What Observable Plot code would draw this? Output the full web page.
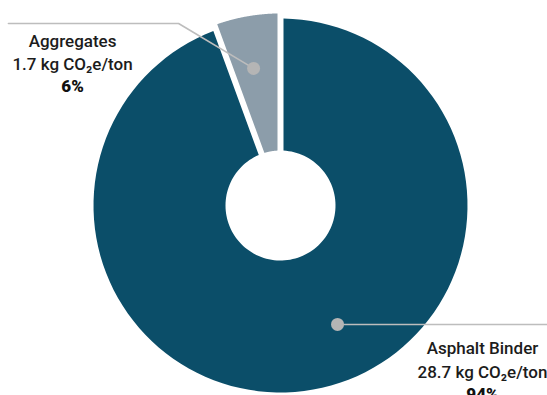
<!DOCTYPE html>
<html><head><meta charset="utf-8">
<script src="https://cdn.jsdelivr.net/npm/d3@7"></script>
<script src="https://cdn.jsdelivr.net/npm/@observablehq/plot@0.6"></script>
<style>body{margin:0;background:#fff}</style>
</head><body><div id="chart"></div>
<script>
// ---- data ----
const categories = ["Asphalt Binder", "Aggregates"];
const intensities = [28.7, 1.7];          // kg CO2e per ton
const shares = ["94%", "6%"];
const colors = ["#0b4e69", "#8c9daa"];

// ---- layout (in units of the donut's outer radius, centre = 0,0) ----
const W = 547, H = 395, cx = 280, cy = 205, Rpx = 187;
const inner = 55 / Rpx, pad = 3 / Rpx;
const outerBy = {"Asphalt Binder": 1, "Aggregates": 1.027};
const leaders = {
  "Asphalt Binder": [[0.305, -0.636], [(W - cx) / Rpx, -0.636]],
  "Aggregates": [[-0.144, 0.733], [-0.545, 0.973], [-1.455, 0.973]]
};
const labelAt = {"Asphalt Binder": [1.08, -0.92], "Aggregates": [-1.112, 0.722]};

const rows = categories.map((c, i) => ({name: c, value: intensities[i], share: shares[i]}));
const arcs = d3.pie().sort(null).value(d => d.value)(rows);

const poly = [];
for (const a of arcs) {
  const ro = outerBy[a.data.name], ri = inner, N = 120;
  const o0 = a.startAngle + Math.asin(pad / ro), o1 = a.endAngle - Math.asin(pad / ro);
  const i0 = a.startAngle + Math.asin(pad / ri), i1 = a.endAngle - Math.asin(pad / ri);
  for (let k = 0; k <= N; k++) { const t = o0 + (o1 - o0) * k / N; poly.push({name: a.data.name, x: ro * Math.sin(t), y: ro * Math.cos(t)}); }
  for (let k = 0; k <= N; k++) { const t = i1 + (i0 - i1) * k / N; poly.push({name: a.data.name, x: ri * Math.sin(t), y: ri * Math.cos(t)}); }
}
const leaderPts = [], dots = [];
for (const c of categories) {
  leaders[c].forEach(([x, y]) => leaderPts.push({name: c, x, y}));
  dots.push({name: c, x: leaders[c][0][0], y: leaders[c][0][1]});
}
const labels = rows.map(r => ({...r, x: labelAt[r.name][0], y: labelAt[r.name][1]}));

const font = "Roboto, 'Noto Sans', sans-serif";
const chart = Plot.plot({
  width: W, height: H, margin: 0,
  x: {domain: [-cx / Rpx, (W - cx) / Rpx], axis: null},
  y: {domain: [-(H - cy) / Rpx, cy / Rpx], axis: null},
  color: {domain: categories, range: colors},
  style: {background: "#fff", fontFamily: font},
  marks: [
    Plot.line(poly, {x: "x", y: "y", z: "name", fill: "name", stroke: "none", curve: "linear"}),
    Plot.line(leaderPts, {x: "x", y: "y", z: "name", stroke: "#bdbdbd", strokeWidth: 1.6}),
    Plot.dot(dots, {x: "x", y: "y", r: 6.5, fill: "#b5b5b5", stroke: "none"}),
    Plot.text(labels, {x: "x", y: "y", text: d => `${d.name}\n${d.value} kg CO₂e/ton`,
      lineAnchor: "bottom", lineHeight: 1.37, fontSize: 17, fontWeight: 500, fill: "#1c1c1c", textAnchor: "middle"}),
    Plot.text(labels, {x: "x", y: "y", text: "share", dy: 22, lineAnchor: "bottom",
      fontSize: 17, fontWeight: 900, fill: "#111", textAnchor: "middle"})
  ]
});
document.getElementById("chart").append(chart);
</script>
</body></html>
